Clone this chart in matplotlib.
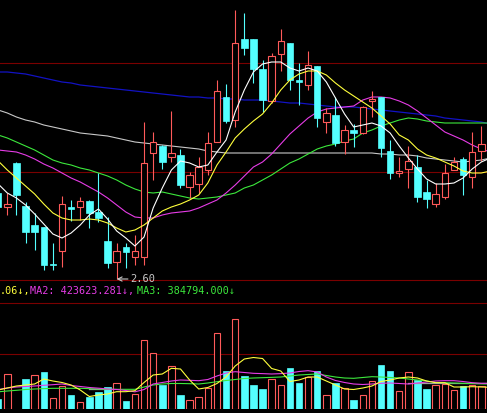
import matplotlib.pyplot as plt

# daily candles, index 0 is the half-hidden one on the left edge
opens = [2.772, 2.744, 2.832, 2.746, 2.708, 2.704, 2.630, 2.656, 2.744, 2.744,
         2.756, 2.734, 2.676, 2.634, 2.664, 2.644, 2.644, 2.852, 2.866, 2.844,
         2.848, 2.784, 2.790, 2.818, 2.874, 2.964, 2.918, 3.080, 3.080, 3.020,
         2.956, 3.050, 3.072, 2.998, 2.988, 3.026, 2.914, 2.928, 2.874, 2.898,
         2.892, 2.956, 2.964, 2.856, 2.812, 2.820, 2.824, 2.774, 2.750, 2.764,
         2.818, 2.840, 2.804, 2.856, 2.868]
highs = [2.778, 2.772, 2.834, 2.754, 2.732, 2.704, 2.672, 2.766, 2.758, 2.764,
         2.758, 2.812, 2.724, 2.672, 2.672, 2.688, 2.914, 2.894, 2.868, 2.936,
         2.860, 2.814, 2.844, 2.894, 2.998, 2.990, 3.138, 3.132, 3.080, 3.038,
         3.052, 3.100, 3.072, 3.032, 3.056, 3.026, 2.942, 2.964, 2.908, 2.910,
         2.946, 2.976, 2.964, 2.878, 2.844, 2.866, 2.848, 2.798, 2.792, 2.830,
         2.844, 2.844, 2.894, 2.906, 2.878]
lows = [2.738, 2.728, 2.728, 2.672, 2.658, 2.618, 2.618, 2.624, 2.716, 2.718,
        2.702, 2.714, 2.622, 2.600, 2.622, 2.628, 2.628, 2.798, 2.820, 2.834,
        2.782, 2.762, 2.772, 2.808, 2.874, 2.912, 2.904, 3.048, 2.992, 2.934,
        2.952, 3.016, 2.978, 2.948, 2.978, 2.904, 2.892, 2.866, 2.850, 2.864,
        2.890, 2.924, 2.844, 2.800, 2.804, 2.782, 2.754, 2.742, 2.744, 2.760,
        2.818, 2.768, 2.782, 2.836, 2.848]
closes = [2.744, 2.750, 2.768, 2.694, 2.694, 2.628, 2.628, 2.750, 2.740, 2.756,
          2.732, 2.722, 2.632, 2.656, 2.654, 2.656, 2.832, 2.874, 2.834, 2.852,
          2.788, 2.808, 2.824, 2.872, 2.976, 2.916, 3.072, 3.062, 3.020, 2.958,
          3.046, 3.076, 2.998, 2.994, 3.028, 2.922, 2.932, 2.872, 2.898, 2.892,
          2.944, 2.960, 2.862, 2.812, 2.816, 2.836, 2.764, 2.760, 2.770, 2.812,
          2.834, 2.808, 2.854, 2.870, 2.856]

# moving averages
ma5 = [2.790, 2.772, 2.762, 2.748, 2.730, 2.710, 2.690, 2.682, 2.692, 2.708,
       2.728, 2.740, 2.720, 2.696, 2.682, 2.666, 2.684, 2.742, 2.782, 2.818,
       2.836, 2.832, 2.824, 2.828, 2.854, 2.878, 2.934, 2.978, 3.014, 3.030,
       3.034, 3.034, 3.022, 3.016, 3.022, 3.016, 2.994, 2.962, 2.930, 2.904,
       2.908, 2.912, 2.906, 2.892, 2.866, 2.842, 2.820, 2.800, 2.790, 2.790,
       2.792, 2.802, 2.820, 2.834, 2.842]
ma10 = [2.836, 2.818, 2.802, 2.786, 2.770, 2.750, 2.732, 2.722, 2.718, 2.718,
        2.720, 2.718, 2.712, 2.702, 2.694, 2.698, 2.708, 2.722, 2.736, 2.744,
        2.750, 2.758, 2.768, 2.792, 2.828, 2.854, 2.882, 2.900, 2.916, 2.930,
        2.952, 2.978, 2.998, 3.010, 3.016, 3.016, 3.008, 2.992, 2.978, 2.966,
        2.954, 2.942, 2.926, 2.910, 2.888, 2.878, 2.860, 2.848, 2.842, 2.834,
        2.826, 2.816, 2.812, 2.812, 2.816]
ma20 = [2.858, 2.856, 2.854, 2.848, 2.840, 2.830, 2.822, 2.812, 2.802, 2.794,
        2.784, 2.774, 2.762, 2.748, 2.734, 2.724, 2.722, 2.722, 2.728, 2.732,
        2.734, 2.736, 2.742, 2.750, 2.758, 2.772, 2.788, 2.806, 2.824, 2.834,
        2.850, 2.870, 2.890, 2.906, 2.922, 2.934, 2.940, 2.942, 2.944, 2.946,
        2.958, 2.964, 2.964, 2.962, 2.956, 2.948, 2.936, 2.922, 2.908, 2.894,
        2.886, 2.878, 2.868, 2.860, 2.854]
ma30 = [2.888, 2.882, 2.874, 2.866, 2.858, 2.848, 2.838, 2.832, 2.828, 2.822,
        2.818, 2.812, 2.806, 2.798, 2.788, 2.780, 2.774, 2.772, 2.774, 2.770,
        2.766, 2.762, 2.760, 2.762, 2.764, 2.768, 2.772, 2.782, 2.788, 2.798,
        2.808, 2.820, 2.832, 2.840, 2.850, 2.860, 2.866, 2.870, 2.876, 2.880,
        2.892, 2.898, 2.906, 2.912, 2.918, 2.922, 2.920, 2.916, 2.914, 2.912,
        2.912, 2.912, 2.912, 2.912, 2.912]
ma60 = [2.938, 2.932, 2.924, 2.918, 2.914, 2.908, 2.904, 2.900, 2.896, 2.892,
        2.890, 2.888, 2.886, 2.882, 2.878, 2.874, 2.872, 2.870, 2.868, 2.866,
        2.864, 2.862, 2.860, 2.856, 2.854, 2.852, 2.852, 2.852, 2.852, 2.852,
        2.852, 2.852, 2.852, 2.852, 2.852, 2.852, 2.852, 2.852, 2.852, 2.852,
        2.852, 2.852, 2.850, 2.850, 2.848, 2.848, 2.846, 2.842, 2.840, 2.838,
        2.836, 2.834, 2.836, 2.838, 2.842]
ma120 = [3.014, 3.014, 3.012, 3.010, 3.006, 3.002, 2.998, 2.994, 2.992, 2.988,
         2.986, 2.984, 2.982, 2.980, 2.978, 2.976, 2.974, 2.972, 2.970, 2.968,
         2.966, 2.964, 2.964, 2.962, 2.962, 2.960, 2.960, 2.958, 2.958, 2.958,
         2.956, 2.954, 2.952, 2.952, 2.950, 2.948, 2.946, 2.944, 2.944, 2.944,
         2.942, 2.940, 2.938, 2.936, 2.934, 2.932, 2.930, 2.928, 2.926, 2.922,
         2.920, 2.918, 2.916, 2.914, 2.910]

volumes = [165000, 560000, 0, 480000, 539000, 592000, 171000, 363000, 224000, 107000,
           197000, 267000, 352000, 411000, 133000, 235000, 1099000, 896000, 384000, 688000,
           224000, 144000, 187000, 331000, 1216000, 613000, 1440000, 528000, 384000, 320000,
           480000, 384000, 651000, 421000, 517000, 608000, 224000, 421000, 331000, 144000,
           224000, 448000, 704000, 613000, 288000, 592000, 464000, 320000, 384000, 400000,
           304000, 368000, 384000, 368000, 197000]
vol_up = [0, 1, 0, 0, 1, 0, 1, 1, 0, 1, 0, 0, 0, 1, 0, 1, 1, 1, 0, 1,
          0, 1, 1, 1, 1, 0, 1, 0, 0, 0, 1, 1, 0, 0, 1, 0, 1, 0, 1, 0,
          1, 1, 0, 0, 1, 1, 0, 0, 1, 1, 1, 0, 1, 1, 0]
vma1 = [304000, 336000, 368000, 384000, 400000, 480000, 448000, 424000, 384000, 304000,
        200000, 224000, 240000, 277000, 277000, 293000, 424000, 544000, 560000, 651000,
        640000, 464000, 320000, 344000, 408000, 512000, 688000, 800000, 824000, 808000,
        648000, 608000, 440000, 464000, 512000, 512000, 448000, 384000, 320000, 312000,
        336000, 368000, 440000, 464000, 496000, 512000, 496000, 448000, 421000, 421000,
        352000, 352000, 357000, 352000, 347000]
vma2 = [312000, 336000, 352000, 360000, 368000, 379000, 389000, 400000, 376000, 360000,
        344000, 333000, 320000, 312000, 296000, 275000, 312000, 400000, 424000, 448000,
        464000, 459000, 453000, 472000, 528000, 576000, 597000, 584000, 571000, 566000,
        560000, 566000, 576000, 600000, 613000, 592000, 512000, 456000, 424000, 400000,
        392000, 400000, 411000, 416000, 408000, 400000, 416000, 432000, 448000, 453000,
        453000, 440000, 421000, 411000, 411000]
vma3 = [275000, 288000, 299000, 312000, 320000, 326000, 331000, 331000, 331000, 331000,
        326000, 320000, 317000, 315000, 315000, 315000, 352000, 384000, 400000, 408000,
        408000, 405000, 400000, 416000, 437000, 456000, 472000, 488000, 496000, 501000,
        506000, 512000, 528000, 544000, 552000, 560000, 536000, 512000, 496000, 491000,
        504000, 517000, 512000, 504000, 496000, 480000, 464000, 448000, 424000, 421000,
        416000, 411000, 408000, 403000, 400000]
# grey long average only shows through in two stretches
vma4 = [None] * 10 + [320000] * 3 + [None] * 32 + [421000] * 10

RED = '#ff5a5a'
CYAN = '#54ffff'
GRID = '#7a0000'
idx = list(range(len(opens)))

fig = plt.figure(figsize=(4.87, 4.13), dpi=100, facecolor='black')
ax = fig.add_axes([0, 133 / 413, 1, 280 / 413], facecolor='black')
axv = fig.add_axes([0, 4 / 413, 1, 106 / 413], facecolor='black')

for a in (ax, axv):
    a.set_xlim(0.1975, 53.626)
    a.set_xticks([])
    a.set_yticks([])
    for s in a.spines.values():
        s.set_visible(False)
ax.set_ylim(2.598, 3.158)
axv.set_ylim(0, 1696000)
ax.spines['bottom'].set_visible(True)
ax.spines['bottom'].set_color(GRID)
axv.spines['top'].set_visible(True)
axv.spines['top'].set_color(GRID)
for lvl in (3.032, 2.814):
    ax.axhline(lvl, color=GRID, lw=0.8, zorder=0)
axv.axhline(880000, color=GRID, lw=0.8, zorder=0)

w = 0.71
for i in idx:
    o, h, l, c = opens[i], highs[i], lows[i], closes[i]
    top, bot = max(o, c), min(o, c)
    if c > o:
        ax.vlines(i, top, h, color=RED, lw=0.8, zorder=3)
        ax.vlines(i, l, bot, color=RED, lw=0.8, zorder=3)
        ax.bar(i, top - bot, bottom=bot, width=w, facecolor='black',
               edgecolor=RED, linewidth=0.8, zorder=3)
    else:
        ax.vlines(i, l, h, color=CYAN, lw=0.8, zorder=3)
        ax.bar(i, max(top - bot, 0.002), bottom=bot, width=w, facecolor=CYAN,
               edgecolor=CYAN, linewidth=0.5, zorder=3)

ax.plot(idx, ma120, color='#1212c4', lw=0.9, zorder=2)
ax.plot(idx, ma60, color='#c8c8c8', lw=0.8, zorder=2)
ax.plot(idx, ma30, color='#3ce83c', lw=0.8, zorder=2)
ax.plot(idx, ma20, color='#e63ce6', lw=0.8, zorder=2)
ax.plot(idx, ma10, color='#ffff3c', lw=0.8, zorder=4)
ax.plot(idx, ma5, color='#ffffff', lw=0.8, zorder=4)

low_i = lows.index(min(lows))
ax.annotate('%.2f' % lows[low_i], xy=(low_i, lows[low_i]), xytext=(14, 0),
            textcoords='offset pixels', color='#c8c8c8', fontsize=7.5,
            family='DejaVu Sans Mono', va='center', ha='left',
            annotation_clip=False, zorder=6,
            arrowprops=dict(arrowstyle='->', color='#c8c8c8', lw=0.8,
                            shrinkA=0, shrinkB=0))

for i in idx:
    if volumes[i] == 0:
        continue
    if vol_up[i]:
        axv.bar(i, volumes[i], width=w, facecolor='black', edgecolor=RED,
                linewidth=0.8, zorder=2)
    else:
        axv.bar(i, volumes[i], width=w, facecolor=CYAN, edgecolor=CYAN,
                linewidth=0.5, zorder=2)

axv.plot(idx, [v if v is not None else float('nan') for v in vma4],
         color='#a0a0a0', lw=0.9, zorder=3)
axv.plot(idx, vma3, color='#3ce83c', lw=0.8, zorder=4)
axv.plot(idx, vma2, color='#e63ce6', lw=0.8, zorder=4)
axv.plot(idx, vma1, color='#ffff3c', lw=0.8, zorder=5)

ty = 1 - 291 / 413
fig.text(0 / 487, ty, '.06↓,', color='#ffff3c', fontsize=7.3,
         family='DejaVu Sans Mono', va='center')
fig.text(30 / 487, ty, 'MA2: 423623.281↓,', color='#e63ce6', fontsize=7.3,
         family='DejaVu Sans Mono', va='center')
fig.text(137 / 487, ty, 'MA3: 384794.000↓', color='#3ce83c', fontsize=7.3,
         family='DejaVu Sans Mono', va='center')

fig.savefig('out.png', dpi=100, facecolor='black')
